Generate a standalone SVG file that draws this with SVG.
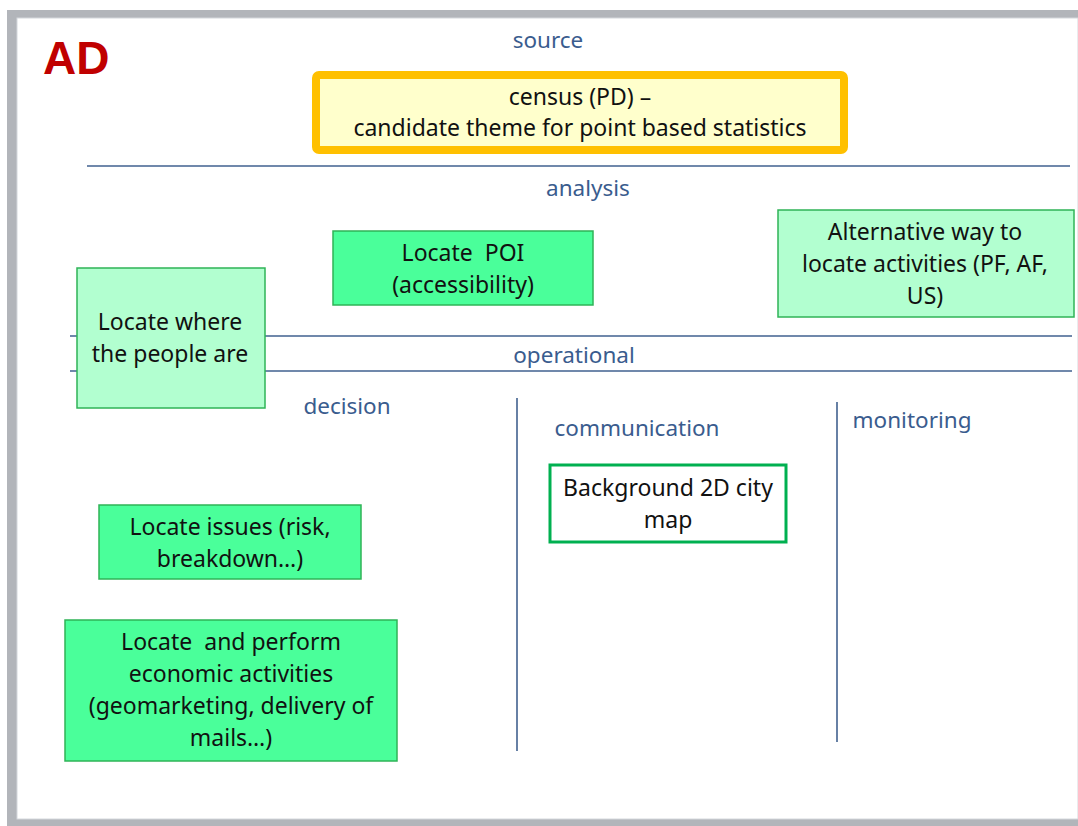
<svg xmlns="http://www.w3.org/2000/svg" width="1078" height="826" viewBox="0 0 1078 826">
<style>
.lbl{font-family:"Noto Sans","Liberation Sans",sans-serif;font-size:22.5px;fill:#3a5c8e;text-anchor:middle}
.txt{font-family:"Noto Sans","Liberation Sans",sans-serif;font-size:23px;fill:#111;text-anchor:middle;white-space:pre}
.sep{stroke:#41618f;stroke-width:1.6;fill:none}
.dark{fill:#4aff9a;stroke:#2fb457;stroke-width:1.5}
.light{fill:#b2ffd0;stroke:#2fb457;stroke-width:1.5}
</style>
<rect x="0" y="0" width="1078" height="826" fill="#ffffff"/>
<rect x="7" y="10" width="1071" height="816" fill="#b2b5ba"/>
<rect x="17" y="18" width="1061" height="801" fill="#ffffff" stroke="#d4d8dc" stroke-width="1"/>
<text x="43" y="74" font-family="Liberation Sans,Arial,sans-serif" font-weight="bold" font-size="46" fill="#c00000">AD</text>

<g id="labels">
<text class="lbl" x="548" y="48">source</text>
<text class="lbl" x="588" y="196">analysis</text>
<text class="lbl" x="574" y="363">operational</text>
<text class="lbl" x="347" y="414">decision</text>
<text class="lbl" x="637" y="436">communication</text>
<text class="lbl" x="912" y="428">monitoring</text>
</g>

<g id="connectors">
<line class="sep" x1="87" y1="166" x2="1070" y2="166"/>
<line class="sep" x1="70" y1="336" x2="1072" y2="336"/>
<line class="sep" x1="70" y1="371" x2="1072" y2="371"/>
<line class="sep" x1="517" y1="398" x2="517" y2="751"/>
<line class="sep" x1="837" y1="402" x2="837" y2="742"/>
</g>

<g id="census">
<rect x="316" y="75" width="528" height="75" rx="3" fill="#ffffcc" stroke="#ffc000" stroke-width="8"/>
<text class="txt" x="580" y="105">census (PD) –</text>
<text class="txt" x="580" y="136">candidate theme for point based statistics</text>
</g>

<g id="poi">
<rect class="dark" x="333" y="231" width="260" height="74"/>
<text class="txt" x="463" y="261" xml:space="preserve">Locate  POI</text>
<text class="txt" x="463" y="293">(accessibility)</text>
</g>

<g id="alternative">
<rect class="light" x="778" y="210" width="296" height="107"/>
<text class="txt" x="925" y="240">Alternative way to</text>
<text class="txt" x="925" y="272">locate activities (PF, AF,</text>
<text class="txt" x="925" y="304">US)</text>
</g>

<g id="people">
<rect class="light" x="77" y="268" width="188" height="140"/>
<text class="txt" x="170" y="330">Locate where</text>
<text class="txt" x="170" y="362">the people are</text>
</g>

<g id="background">
<rect x="550" y="465" width="236" height="77" fill="#ffffff" stroke="#00b050" stroke-width="3"/>
<text class="txt" x="668" y="496">Background 2D city</text>
<text class="txt" x="668" y="528">map</text>
</g>

<g id="issues">
<rect class="dark" x="99" y="505" width="262" height="74"/>
<text class="txt" x="230" y="535">Locate issues (risk,</text>
<text class="txt" x="230" y="567">breakdown…)</text>
</g>

<g id="economic">
<rect class="dark" x="65" y="620" width="332" height="141"/>
<text class="txt" x="231" y="650" xml:space="preserve">Locate  and perform</text>
<text class="txt" x="231" y="682">economic activities</text>
<text class="txt" x="231" y="714">(geomarketing, delivery of</text>
<text class="txt" x="231" y="746">mails…)</text>
</g>
</svg>
